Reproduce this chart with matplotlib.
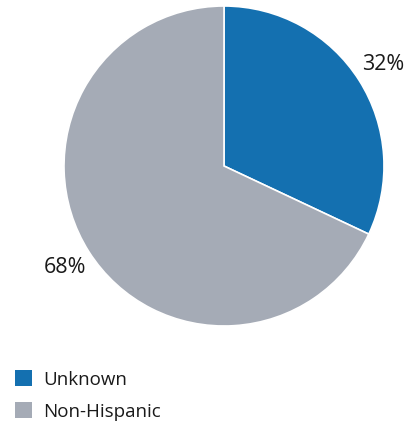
import matplotlib.pyplot as plt
from matplotlib.patches import Rectangle

plt.rcParams['font.family'] = ['Open Sans', 'DejaVu Sans']

# ethnicity breakdown
labels = ['Unknown', 'Non-Hispanic']
values = [32, 68]
colors = ['#1470b0', '#a5abb6']

W, H = 408, 422
fig = plt.figure(figsize=(W / 100, H / 100), dpi=100)
ax = fig.add_axes([64 / W, 96 / H, 320 / W, 320 / H])

wedges, texts, autotexts = ax.pie(
    values, colors=colors, startangle=90, counterclock=False,
    autopct='%d%%', pctdistance=1.18, radius=1,
    wedgeprops=dict(edgecolor='white', linewidth=1.2),
    textprops=dict(fontsize=15.5, color='#1a1a1a'))
ax.set_xlim(-1, 1)
ax.set_ylim(-1, 1)

# legend: square swatch + label per row
for i, (lab, c) in enumerate(zip(labels, colors)):
    yc = 378 + 32 * i
    fig.add_artist(Rectangle((15 / W, 1 - (yc + 8) / H), 17 / W, 16 / H,
                             transform=fig.transFigure, facecolor=c, edgecolor='none'))
    fig.text(43 / W, 1 - yc / H, lab, fontsize=13.5, color='#1a1a1a',
             ha='left', va='center_baseline')

fig.savefig('out.png', dpi=100)
